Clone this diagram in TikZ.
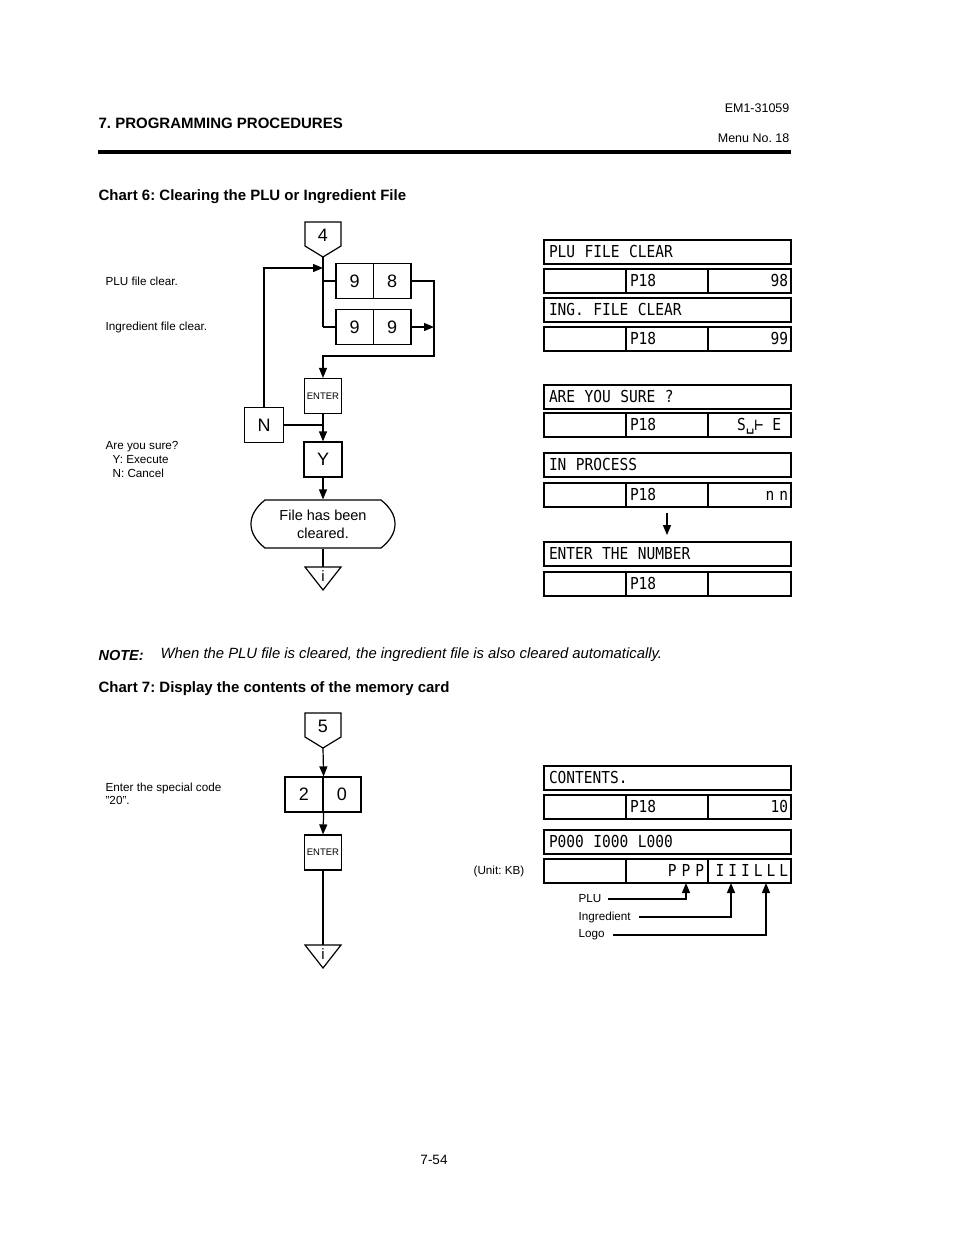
\documentclass[tikz,border=0pt]{standalone}
\usepackage{fontspec}
\setmainfont{Liberation Sans}
\newfontfamily\lcd[FakeStretch=0.88]{DejaVu Sans Mono}
\DeclareRobustCommand\lcdsetfont{\lcd\fontsize{16.5}{17}\selectfont}
\newcommand\lsp{\ \kern4pt}
\usetikzlibrary{arrows.meta}
\begin{document}
\frenchspacing
\begin{tikzpicture}[x=1pt,y=-1pt,
  line width=1.2pt,
  arr/.style={-{Triangle[length=10pt,width=8pt]}},
  key/.style={draw, minimum width=38pt, minimum height=35pt, inner sep=0pt, font=\fontsize{18}{18}\selectfont},
  enterkey/.style={draw, minimum width=37pt, minimum height=35pt, inner sep=0pt, font=\fontsize{9.5}{10}\selectfont},
  lcdrow/.style={draw, line width=1.8pt, minimum height=24pt, text width=237pt, inner xsep=5pt, inner ysep=0pt, align=left, font=\lcdsetfont, text height=11.5pt, text depth=0pt},
  cella/.style={draw, line width=1.8pt, minimum height=24pt, minimum width=82pt, inner sep=0pt},
  cellb/.style={draw, line width=1.8pt, minimum height=24pt, text width=74pt, inner xsep=4pt, inner ysep=0pt, align=left, font=\lcdsetfont, text height=11.5pt, text depth=0pt},
  cellc/.style={draw, line width=1.8pt, minimum height=24pt, text width=77pt, inner xsep=3pt, inner ysep=0pt, align=right, font=\lcdsetfont, text height=11.5pt, text depth=0pt},
  small/.style={font=\fontsize{11.7}{12}\selectfont, inner sep=0pt, anchor=west},
  ttl/.style={font=\bfseries\fontsize{15}{15}\selectfont, inner sep=0pt, anchor=west},
]
\useasboundingbox (0,0) rectangle (954,1235);

% ---------- header ----------
\node[ttl] (hd) at (98,123) {7. PROGRAMMING PROCEDURES};
\node[font=\fontsize{12.5}{13}\selectfont, inner sep=0pt, anchor=east] (doc) at (790,108) {EM1-31059};
\node[font=\fontsize{12.5}{13}\selectfont, inner sep=0pt, anchor=east] (menu) at (790,138) {Menu No. 18};
\draw[line width=4pt] (98,152) -- (791,152);
\node[ttl] (c6) at (98,197) {Chart 6: Clearing the PLU or Ingredient File};

% ---------- chart 6 left texts ----------
\node[small] (l1) at (105,281) {PLU file clear.};
\node[small] (l2) at (105,327) {Ingredient file clear.};
\node[small] (l3) at (105,447) {Are you sure?};
\node[small] (l4) at (112,460) {Y:\ Execute};
\node[small] (l5) at (112,473) {N:\ Cancel};

% ---------- chart 6 flow ----------
\draw (305,222) -- (341,222) -- (341,246) -- (323,257) coordinate (k4tip) -- (305,246) -- cycle;
\node[font=\fontsize{18}{18}\selectfont, inner sep=0pt] (k4) at (323,235) {4};

\node[key, minimum width=37.5pt] (k9a) at (354.75,281) {9};
\node[key, minimum width=37.5pt] (k8) at (392.25,281) {8};
\node[key, minimum width=37.5pt] (k9b) at (354.75,327) {9};
\node[key, minimum width=37.5pt] (k9c) at (392.25,327) {9};

\node[enterkey] (ent) at (323,396) {ENTER};
\node[key, minimum width=39pt] (kn) at (264,425) {N};
\node[key] (ky) at (323,459.5) {Y};

\coordinate (j1) at (323,268);
\coordinate (rb) at (434,356);

\draw (k4tip) -- (k4tip |- k9b.west);
\draw (k4tip |- k9a.west) -- (k9a.west);
\draw (k4tip |- k9b.west) -- (k9b.west);
\draw[arr] (k8.east) -| (rb) -| (ent.north);
\draw[arr] (k9c.east) -- (k9c.east -| rb);
\draw[arr] (kn.north) |- (j1);
\draw[arr] (ent.south) -- (ky.north);
\draw (kn.east) -- (kn.east -| ky.north);

\node[align=center, font=\fontsize{14.5}{18}\selectfont, inner sep=0pt, minimum width=144pt, minimum height=48pt] (term) at (323,524) {File has been\\cleared.};
\draw (265,500) -- (381,500) .. controls (391,508) and (395,516) .. (395,524) .. controls (395,532) and (391,540) .. (381,548) -- (265,548) .. controls (255,540) and (251,532) .. (251,524) .. controls (251,516) and (255,508) .. (265,500) -- cycle;
\draw[arr] (ky.south) -- (term.north);

\draw (305,567) -- (341,567) -- (323,590) -- cycle;
\coordinate (t1top) at (323,567);
\node[font=\fontsize{15}{15}\selectfont, inner sep=0pt] (t1i) at (323,576) {i};
\draw (term.south) -- (t1top);

% ---------- chart 6 displays ----------
\node[lcdrow] (r1) at (667.5,252) {PLU\lsp FILE\lsp CLEAR};
\node[cella] (r2a) at (585,281) {};
\node[cellb] (r2b) at (667,281) {P18};
\node[cellc] (r2c) at (749.5,281) {98};
\node[lcdrow] (r3) at (667.5,310) {ING.\lsp FILE\lsp CLEAR};
\node[cella] (r4a) at (585,339) {};
\node[cellb] (r4b) at (667,339) {P18};
\node[cellc] (r4c) at (749.5,339) {99};

\node[lcdrow] (r5) at (667.5,397) {ARE\lsp YOU\lsp SURE\lsp ?};
\node[cella] (r6a) at (585,425) {};
\node[cellb] (r6b) at (667,425) {P18};
\node[cellc] (r6c) at (749.5,425) {S␣⊢\kern9pt E\kern7pt};

\node[lcdrow] (r7) at (667.5,465) {IN\lsp PROCESS};
\node[cella] (r8a) at (585,495) {};
\node[cellb] (r8b) at (667,495) {P18};
\node[cellc] (r8c) at (749.5,495) {n\kern5pt n};

\node[lcdrow] (r9) at (667.5,554) {ENTER\lsp THE\lsp NUMBER};
\node[cella] (r10a) at (585,584) {};
\node[cellb] (r10b) at (667,584) {P18};
\node[cellc] (r10c) at (749.5,584) {};

\draw[arr] ([yshift=-5pt]r8b.south) -- ([yshift=6pt]r9.north -| r8b.south);

% ---------- note + chart 7 title ----------
\node[font=\bfseries\itshape\fontsize{14.5}{15}\selectfont, inner sep=0pt, anchor=west] (nt) at (98,655) {NOTE:};
\node[font=\itshape\fontsize{14.85}{15}\selectfont, inner sep=0pt, anchor=west] (ntx) at (160,655) {When the PLU file is cleared, the ingredient file is also cleared automatically.};
\node[ttl] (c7) at (98,689) {Chart 7: Display the contents of the memory card};

% ---------- chart 7 flow ----------
\node[small] (e1) at (105,788) {Enter the special code};
\node[small] (e2) at (105,800) {"20".};

\draw (305,713) -- (341,713) -- (341,737) -- (323,748) coordinate (k5tip) -- (305,737) -- cycle;
\node[font=\fontsize{18}{18}\selectfont, inner sep=0pt] (k5) at (323,726) {5};

\node[key] (k2) at (304,794.5) {2};
\node[key] (k0) at (342,794.5) {0};
\node[enterkey] (ent2) at (323,852.5) {ENTER};
\draw[arr] (k5tip) -- (k2.north east);
\draw[arr] (k2.south east) -- (ent2.north);

\draw (305,945) -- (341,945) -- (323,968) -- cycle;
\coordinate (t2top) at (323,945);
\node[font=\fontsize{15}{15}\selectfont, inner sep=0pt] (t2i) at (323,954) {i};
\draw (ent2.south) -- (t2top);

% ---------- chart 7 displays ----------
\node[lcdrow] (s1) at (667.5,778) {CONTENTS.};
\node[cella] (s2a) at (585,807) {};
\node[cellb] (s2b) at (667,807) {P18};
\node[cellc] (s2c) at (749.5,807) {10};
\node[lcdrow] (s3) at (667.5,842) {P000\lsp I000\lsp L000};
\node[cella] (s4a) at (585,871) {};
\node[cellc, text width=74pt, inner xsep=4pt] (s4b) at (667,871) {P\kern5pt P\kern5pt P};
\node[cellc] (s4c) at (749.5,871) {I\kern4pt I\kern4pt I\kern4pt L\kern4pt L\kern4pt L};

\node[small] (unit) at (473,871) {(Unit: KB)};

\node[small] (lp) at (578,899) {PLU};
\node[small] (li) at (578,917) {Ingredient};
\node[small] (ll) at (578,935) {Logo};
\coordinate (ap) at (686,883);
\coordinate (ai) at (731,883);
\coordinate (al) at (766,883);
\draw[arr] ([xshift=6pt]lp.east) -| (ap);
\draw[arr] ([xshift=8pt]li.east) -| (ai);
\draw[arr] ([xshift=8pt]ll.east) -| (al);

% ---------- page number ----------
\node[font=\fontsize{13.5}{14}\selectfont, inner sep=0pt] (pg) at (434,1160) {7-54};
\end{tikzpicture}
\end{document}
